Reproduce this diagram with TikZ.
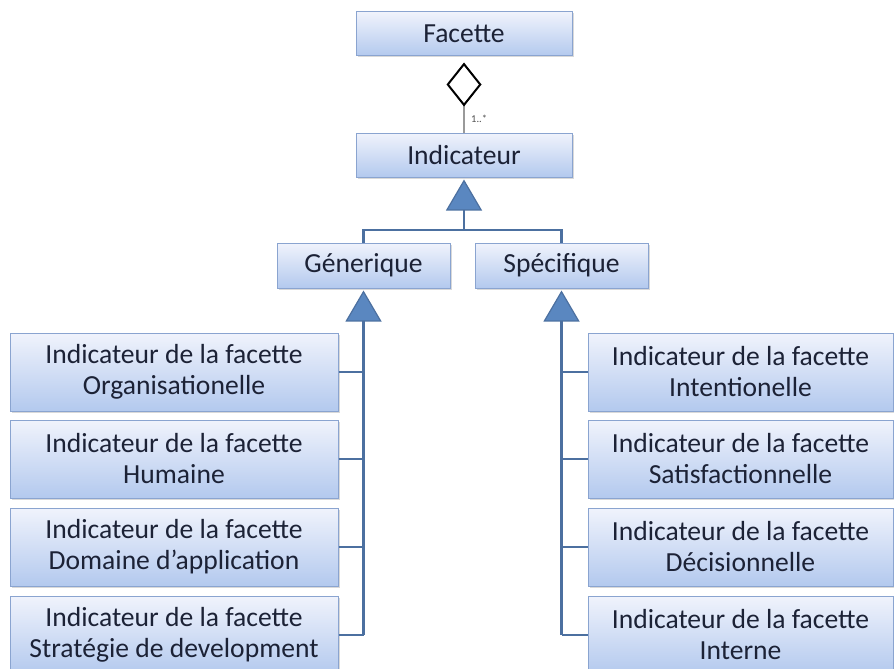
\documentclass[tikz,border=0pt]{standalone}
\usepackage{fontspec}
\setmainfont{Carlito}
\usetikzlibrary{arrows.meta,shadows}
\definecolor{boxtop}{HTML}{F0F3FC}
\definecolor{boxbot}{HTML}{B3C9EE}
\definecolor{boxline}{HTML}{8AA4D0}
\definecolor{txt}{HTML}{1C2236}
\definecolor{conn}{HTML}{4C70A0}
\definecolor{trifill}{HTML}{5A87C0}
\definecolor{assoc}{HTML}{9A9A9A}
\tikzset{
  classbox/.style={draw=boxline, line width=1pt, top color=boxtop, bottom color=boxbot,
    text=txt, align=center, inner sep=0pt, font=\fontsize{27.6}{31}\selectfont,
    drop shadow={opacity=0.3, shadow xshift=1.5pt, shadow yshift=-1.5pt}},
  small/.style={classbox, minimum width=216pt, minimum height=44pt},
  mid/.style={classbox, minimum width=173pt, minimum height=45pt},
  leftbox/.style={classbox, minimum width=328pt, minimum height=78pt},
  rightbox/.style={classbox, minimum width=305pt, minimum height=78pt},
  link/.style={draw=conn, line width=2.5pt},
  genarrow/.style={link, -{Triangle[width=36pt,length=31pt,fill=trifill,color=conn,line width=1.2pt]}, shorten >=2pt},
}
\begin{document}
\begin{tikzpicture}[x=1pt,y=-1pt]
\useasboundingbox (0,0) rectangle (894,669);
\clip (0,0) rectangle (894,669);

% class boxes
\node[small] (fac) at (464,34) {Facette};
\node[small] (ind) at (464,155) {Indicateur};
\node[mid] (gen) at (363.5,265.5) {Génerique};
\node[mid] (spe) at (561.5,265.5) {Spécifique};

\node[leftbox] (l1) at (174,372) {Indicateur de la facette\\Organisationelle};
\node[leftbox] (l2) at (174,459) {Indicateur de la facette\\Humaine};
\node[leftbox] (l3) at (174,547) {Indicateur de la facette\\Domaine d’application};
\node[leftbox] (l4) at (174,635) {Indicateur de la facette\\Stratégie de development};

\node[rightbox] (r1) at (740.5,372) {Indicateur de la facette\\Intentionelle};
\node[rightbox] (r2) at (740.5,459) {Indicateur de la facette\\Satisfactionnelle};
\node[rightbox] (r3) at (740.5,547) {Indicateur de la facette\\Décisionnelle};
\node[rightbox] (r4) at (740.5,635) {Indicateur de la facette\\Interne};

% aggregation Facette <>-- Indicateur
\draw[draw=assoc, line width=1.5pt, shorten >=6pt,
  -{Diamond[open,width=35pt,length=44pt,color=black,line width=2pt]}]
  (ind.north) -- (fac.south);
\node[anchor=west, font=\fontsize{10.5}{12}\selectfont, text=black!70, inner sep=0pt]
  (mult) at (471,119) {1..*};

% generalisation Indicateur
\coordinate (hj) at (464,230);
\draw[link] (gen.north) |- (hj) -| (spe.north);
\draw[genarrow] (hj) -- (ind.south);

% generalisation Génerique
\coordinate (lb) at (gen.south |- l4.east);
\draw[genarrow] (lb) -- (gen.south);
\foreach \n in {l1,l2,l3,l4} \draw[link] (\n.east) -- (\n.east -| lb);

% generalisation Spécifique
\coordinate (rb) at (spe.south |- r4.west);
\draw[genarrow] (rb) -- (spe.south);
\foreach \n in {r1,r2,r3,r4} \draw[link] (\n.west) -- (\n.west -| rb);
\end{tikzpicture}
\end{document}
